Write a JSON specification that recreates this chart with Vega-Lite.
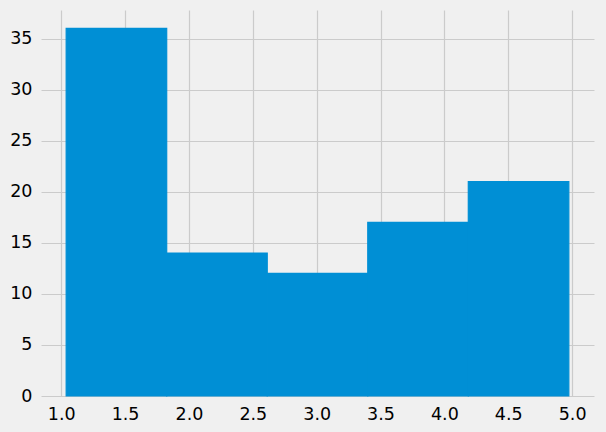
{
  "$schema": "https://vega.github.io/schema/vega-lite/v6.json",
  "width": 553,
  "height": 386,
  "autosize": {"type": "none"},
  "padding": {"left": 41, "top": 10, "right": 12, "bottom": 36},
  "background": "#f0f0f0",
  "config": {
    "view": {"stroke": null, "fill": "#f0f0f0"},
    "axis": {
      "labelFont": "DejaVu Sans",
      "labelFontSize": 17.5,
      "labelColor": "#000000",
      "gridColor": "#cbcbcb",
      "gridWidth": 1.2,
      "domain": false,
      "ticks": false,
      "title": null
    }
  },
  "data": {
    "values": [
      {"bin_start": 1.039, "bin_end": 1.826, "count": 36},
      {"bin_start": 1.826, "bin_end": 2.613, "count": 14},
      {"bin_start": 2.613, "bin_end": 3.400, "count": 12},
      {"bin_start": 3.400, "bin_end": 4.187, "count": 17},
      {"bin_start": 4.187, "bin_end": 4.974, "count": 21}
    ]
  },
  "mark": {"type": "rect", "fill": "#008fd5", "stroke": "#008fd5", "strokeWidth": 1.2},
  "encoding": {
    "x": {
      "field": "bin_start",
      "type": "quantitative",
      "scale": {"domain": [0.842, 5.171], "nice": false, "zero": false},
      "axis": {"values": [1.0, 1.5, 2.0, 2.5, 3.0, 3.5, 4.0, 4.5, 5.0], "format": ".1f", "labelPadding": 9, "labelFlush": false}
    },
    "x2": {"field": "bin_end"},
    "y": {
      "field": "count",
      "type": "quantitative",
      "scale": {"domain": [0, 37.8], "nice": false},
      "axis": {"values": [0, 5, 10, 15, 20, 25, 30, 35], "labelPadding": 9}
    },
    "y2": {"datum": 0}
  }
}
